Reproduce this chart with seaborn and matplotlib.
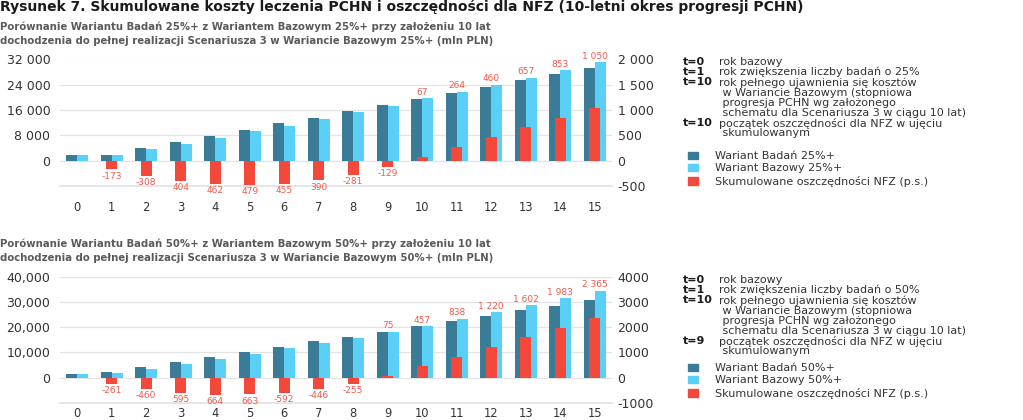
import numpy as np
import pandas as pd
import seaborn as sns
import matplotlib.pyplot as plt
from matplotlib.patches import Patch

# ---- data (mln PLN) ----
lata = [str(i) for i in range(16)]

badan_25 = [1700, 1900, 3900, 5900, 7800, 9800, 11800, 13600,
            15700, 17600, 19600, 21500, 23400, 25400, 27300, 29300]
bazowy_25 = [1700, 1700, 3600, 5300, 7200, 9300, 11100, 13200,
             15300, 17400, 19700, 21800, 24000, 26300, 28600, 31100]
oszcz_25 = [0, -173, -308, -404, -462, -479, -455, -390,
            -281, -129, 67, 264, 460, 657, 853, 1050]
etykiety_25 = ["", "-173", "-308", "404", "462", "479", "455", "390",
               "-281", "-129", "67", "264", "460", "657", "853", "1 050"]

badan_50 = [1600, 2100, 4100, 6100, 8200, 10200, 12300, 14400,
            16100, 18300, 20300, 22400, 24400, 26700, 28500, 30900]
bazowy_50 = [1500, 1700, 3600, 5400, 7400, 9400, 11700, 13900,
             15900, 18300, 20500, 23300, 26000, 28700, 31500, 34500]
oszcz_50 = [0, -261, -460, -595, -664, -663, -592, -446,
            -255, 75, 457, 838, 1220, 1602, 1983, 2365]
etykiety_50 = ["", "-261", "-460", "595", "664", "663", "-592", "-446",
               "-255", "75", "457", "838", "1 220", "1 602", "1 983", "2 365"]

lewe_25 = [0, 8000, 16000, 24000, 32000]
lewe_25_txt = ["0", "8 000", "16 000", "24 000", "32 000"]
prawe_25 = [-500, 0, 500, 1000, 1500, 2000]
prawe_25_txt = ["-500", "0", "500", "1 000", "1 500", "2 000"]

lewe_50 = [0, 10000, 20000, 30000, 40000]
lewe_50_txt = ["0", "10,000", "20,000", "30,000", "40,000"]
prawe_50 = [-1000, 0, 1000, 2000, 3000, 4000]
prawe_50_txt = ["-1000", "0", "1000", "2000", "3000", "4000"]

DARK = "#3a7b98"
LIGHT = "#5ad0f6"
RED = "#f4493a"
LABEL_RED = "#ef5a4c"
GRID = "#e3e3e3"
TXT = "#333333"

sns.set_theme(style="white")
plt.rcParams["font.family"] = ["DejaVu Sans"]

W, H = 1023, 420
fig = plt.figure(figsize=(W / 100, H / 100), dpi=100)


def px(x, y):
    return x / W, 1 - y / H


def panel(top, bottom, badan, bazowy, oszcz, etykiety, names,
          lt, lt_txt, rt, rt_txt, llim, rlim, xpad):
    ax = fig.add_axes([60 / W, 1 - bottom / H, 552 / W, (bottom - top) / H])
    df = pd.DataFrame({
        "rok": lata * 2,
        "wartosc": badan + bazowy,
        "seria": [names[0]] * 16 + [names[1]] * 16,
    })
    sns.barplot(data=df, x="rok", y="wartosc", hue="seria",
                palette=[DARK, LIGHT], width=0.66, gap=0.03,
                saturation=1, legend=False, ax=ax, zorder=2, linewidth=0)
    ax.set_ylim(*llim)
    ax.set_yticks(lt)
    ax.set_yticklabels(lt_txt)
    ax.yaxis.grid(True, color=GRID, lw=0.9, zorder=0)
    ax.set_axisbelow(True)

    # oszczednosci na prawej osi
    ax2 = ax.twinx()
    sns.barplot(x=lata, y=oszcz, color=RED, width=0.31, ax=ax2,
                saturation=1, linewidth=0)
    ax2.set_ylim(*rlim)
    ax2.set_yticks(rt)
    ax2.set_yticklabels(rt_txt)
    ax2.grid(False)

    for a in (ax, ax2):
        a.set_xlabel("")
        a.set_ylabel("")
        for s in a.spines.values():
            s.set_visible(False)
        a.tick_params(length=0, labelsize=9, labelcolor=TXT)
    ax.spines["bottom"].set_visible(True)
    ax.spines["bottom"].set_color(GRID)
    ax.tick_params(axis="x", pad=xpad, labelsize=8.3)
    ax.tick_params(axis="y", pad=7)
    ax2.tick_params(axis="y", pad=4)
    ax.set_xlim(-0.5, 15.5)

    for i, (v, t) in enumerate(zip(oszcz, etykiety)):
        if not t:
            continue
        if v >= 0:
            ax.annotate(t, (i, max(badan[i], bazowy[i])), xytext=(0, 1),
                        textcoords="offset points", ha="center", va="bottom",
                        fontsize=6.5, color=LABEL_RED)
        else:
            ax2.annotate(t, (i, v), xytext=(0, -1.5),
                         textcoords="offset points", ha="center", va="top",
                         fontsize=6.5, color=LABEL_RED)
    return ax


fig.text(*px(0, 7), "Rysunek 7. Skumulowane koszty leczenia PCHN i oszczędności "
         "dla NFZ (10-letni okres progresji PCHN)", fontsize=10,
         fontweight="bold", color="#1a1a1a", va="center")

sub = dict(fontsize=7.3, fontweight="bold", color="#5a5a5a", va="center")
fig.text(*px(0, 27), "Porównanie Wariantu Badań 25%+ z Wariantem Bazowym 25%+ "
         "przy założeniu 10 lat", **sub)
fig.text(*px(0, 41), "dochodzenia do pełnej realizacji Scenariusza 3 w "
         "Wariancie Bazowym 25%+ (mln PLN)", **sub)
fig.text(*px(0, 244), "Porównanie Wariantu Badań 50%+ z Wariantem Bazowym 50%+ "
         "przy założeniu 10 lat", **sub)
fig.text(*px(0, 258), "dochodzenia do pełnej realizacji Scenariusza 3 w "
         "Wariancie Bazowym 50%+ (mln PLN)", **sub)

names_25 = ["Wariant Badań 25%+", "Wariant Bazowy 25%+",
            "Skumulowane oszczędności NFZ (p.s.)"]
names_50 = ["Wariant Badań 50%+", "Wariant Bazowy 50%+",
            "Skumulowane oszczędności NFZ (p.s.)"]

panel(59.5, 186, badan_25, bazowy_25, oszcz_25, etykiety_25, names_25,
      lewe_25, lewe_25_txt, prawe_25, prawe_25_txt, (-8000, 32000), (-500, 2000), 11)
panel(276.7, 403, badan_50, bazowy_50, oszcz_50, etykiety_50, names_50,
      lewe_50, lewe_50_txt, prawe_50, prawe_50_txt, (-10000, 40000), (-1000, 4000), 3)


def opis(y0, proc, start):
    rows = [
        ("t=0", ["rok bazowy"]),
        ("t=1", [f"rok zwiększenia liczby badań o {proc}%"]),
        ("t=10", ["rok pełnego ujawnienia się kosztów",
                  " w Wariancie Bazowym (stopniowa",
                  " progresja PCHN wg założonego",
                  " schematu dla Scenariusza 3 w ciągu 10 lat)"]),
        (start, ["początek oszczędności dla NFZ w ujęciu",
                 " skumulowanym"]),
    ]
    y = y0
    for key, lines in rows:
        fig.text(*px(683, y), key, fontsize=8, fontweight="bold",
                 color="#1a1a1a", va="center")
        for ln in lines:
            fig.text(*px(719, y), ln, fontsize=8, color=TXT, va="center")
            y += 10.2


opis(62, 25, "t=10")
opis(280, 50, "t=9")

for names, ytop in ((names_25, 151), (names_50, 363)):
    handles = [Patch(color=c) for c in (DARK, LIGHT, RED)]
    fig.legend(handles, names, loc="upper left",
               bbox_to_anchor=px(688, ytop), frameon=False, fontsize=8,
               handlelength=0.9, handleheight=0.6, handletextpad=1.5,
               labelspacing=0.22, labelcolor=TXT, borderaxespad=0,
               borderpad=0)

fig.savefig("out.png", dpi=100)
